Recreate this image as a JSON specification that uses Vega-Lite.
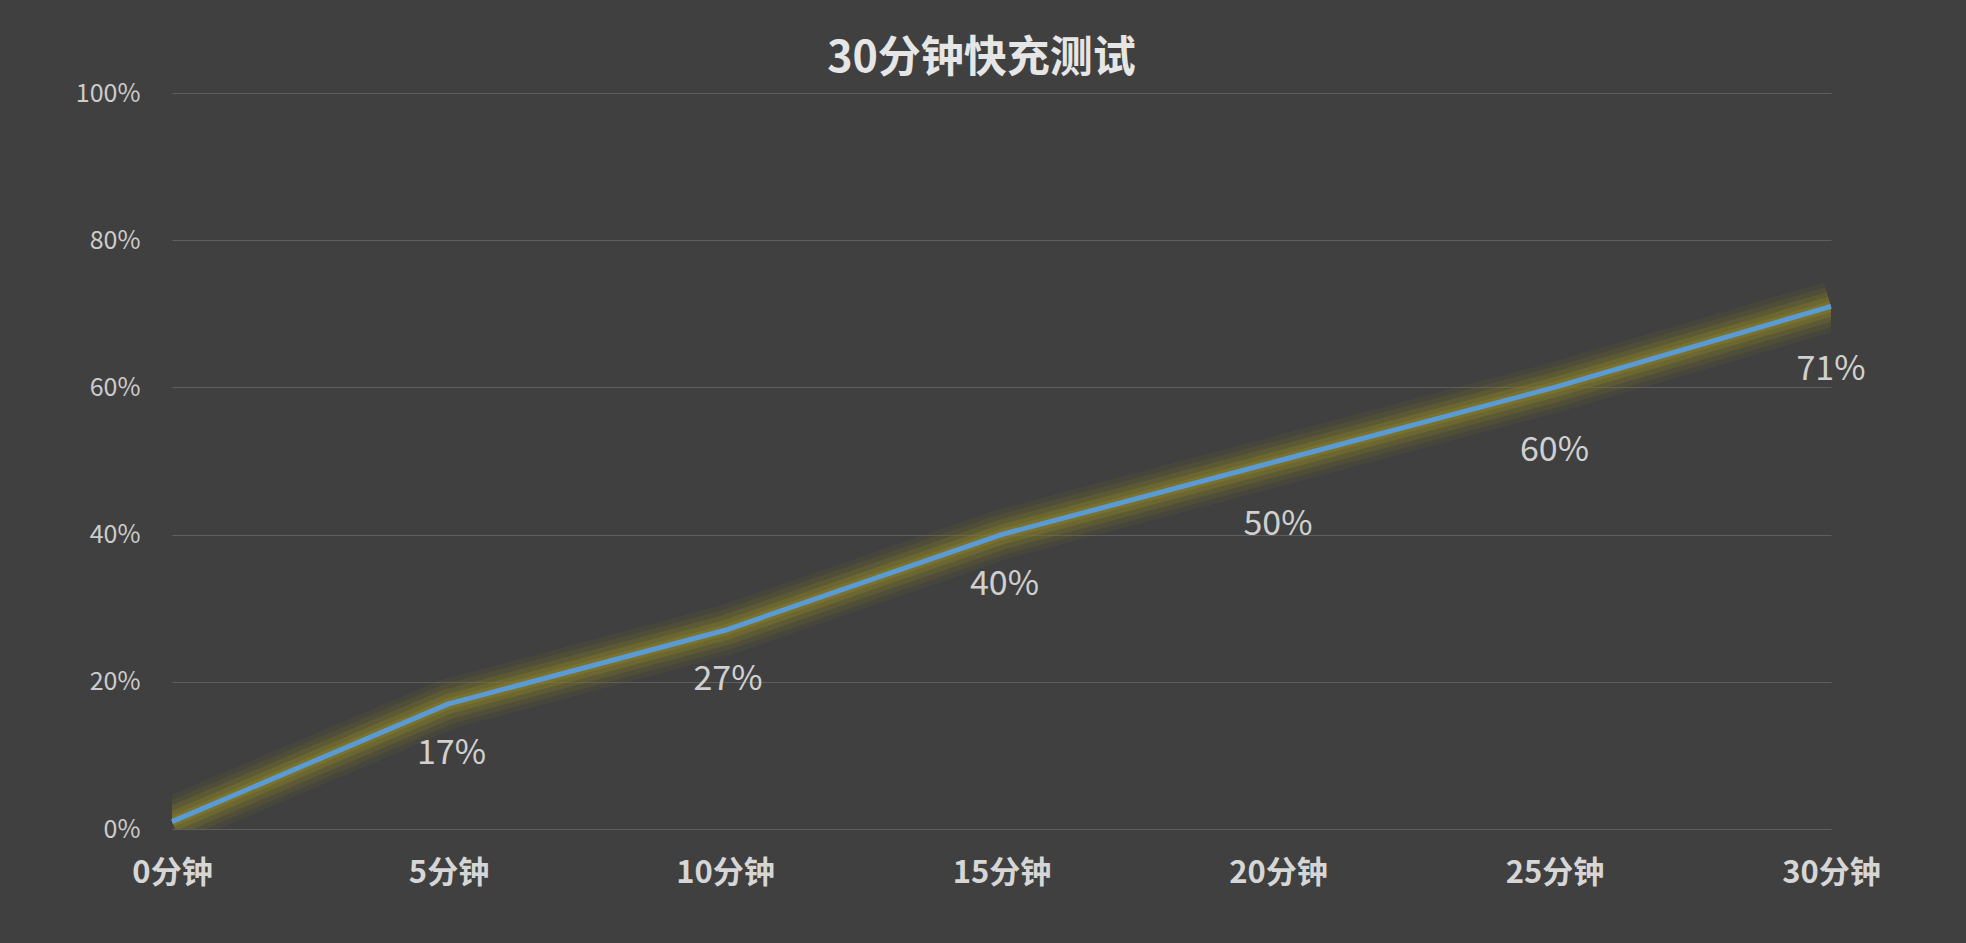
{
  "$schema": "https://vega.github.io/schema/vega-lite/v6.json",
  "width": 1659,
  "height": 736,
  "autosize": {"type": "none"},
  "padding": {"left": 172, "top": 93, "right": 135, "bottom": 114},
  "background": "#404040",
  "title": {
    "text": "30分钟快充测试",
    "font": "Noto Sans CJK SC",
    "fontSize": 43,
    "fontWeight": "bold",
    "color": "#e6e6e6",
    "anchor": "middle",
    "dx": -20,
    "offset": 0
  },
  "data": {
    "values": [
      {"time": "0分钟", "pct": 1, "label": null},
      {"time": "5分钟", "pct": 17, "label": "17%"},
      {"time": "10分钟", "pct": 27, "label": "27%"},
      {"time": "15分钟", "pct": 40, "label": "40%"},
      {"time": "20分钟", "pct": 50, "label": "50%"},
      {"time": "25分钟", "pct": 60, "label": "60%"},
      {"time": "30分钟", "pct": 71, "label": "71%"}
    ]
  },
  "encoding": {
    "x": {
      "field": "time",
      "type": "ordinal",
      "sort": null,
      "scale": {"type": "point", "padding": 0},
      "axis": {
        "title": null,
        "labelAngle": 0,
        "labelFont": "Noto Sans CJK SC",
        "labelFontSize": 31,
        "labelFontWeight": "bold",
        "labelColor": "#d6d6d6",
        "labelPadding": 29,
        "domain": false,
        "ticks": false,
        "grid": false
      }
    },
    "y": {
      "field": "pct",
      "type": "quantitative",
      "scale": {"domain": [0, 100]},
      "axis": {
        "title": null,
        "values": [0, 20, 40, 60, 80, 100],
        "labelExpr": "datum.value + '%'",
        "labelFont": "Noto Sans CJK SC",
        "labelFontSize": 25,
        "labelColor": "#cccccc",
        "labelPadding": 32,
        "domain": false,
        "ticks": false,
        "gridColor": "#5e5e5e",
        "gridWidth": 1
      }
    }
  },
  "layer": [
    {"mark": {"type": "line", "color": "#6e6a30", "strokeWidth": 50, "opacity": 0.15, "strokeJoin": "round", "clip": true}},
    {"mark": {"type": "line", "color": "#76702e", "strokeWidth": 40, "opacity": 0.2, "strokeJoin": "round", "clip": true}},
    {"mark": {"type": "line", "color": "#7e762c", "strokeWidth": 30, "opacity": 0.28, "strokeJoin": "round", "clip": true}},
    {"mark": {"type": "line", "color": "#867c2c", "strokeWidth": 20, "opacity": 0.38, "strokeJoin": "round", "clip": true}},
    {"mark": {"type": "line", "color": "#8a802e", "strokeWidth": 11, "opacity": 0.45, "strokeJoin": "round", "clip": true}},
    {"mark": {"type": "line", "color": "#5b9bd5", "strokeWidth": 5, "strokeJoin": "round"}},
    {
      "transform": [{"filter": "datum.label != null && datum.pct < 45"}],
      "mark": {"type": "text", "dy": 50, "dx": 3, "font": "Noto Sans CJK SC", "fontSize": 34, "color": "#d0d0d0"},
      "encoding": {"text": {"field": "label", "type": "nominal"}}
    },
    {
      "transform": [{"filter": "datum.label != null && datum.pct >= 45"}],
      "mark": {"type": "text", "dy": 64, "font": "Noto Sans CJK SC", "fontSize": 34, "color": "#d0d0d0"},
      "encoding": {"text": {"field": "label", "type": "nominal"}}
    }
  ],
  "config": {"view": {"stroke": null}}
}
